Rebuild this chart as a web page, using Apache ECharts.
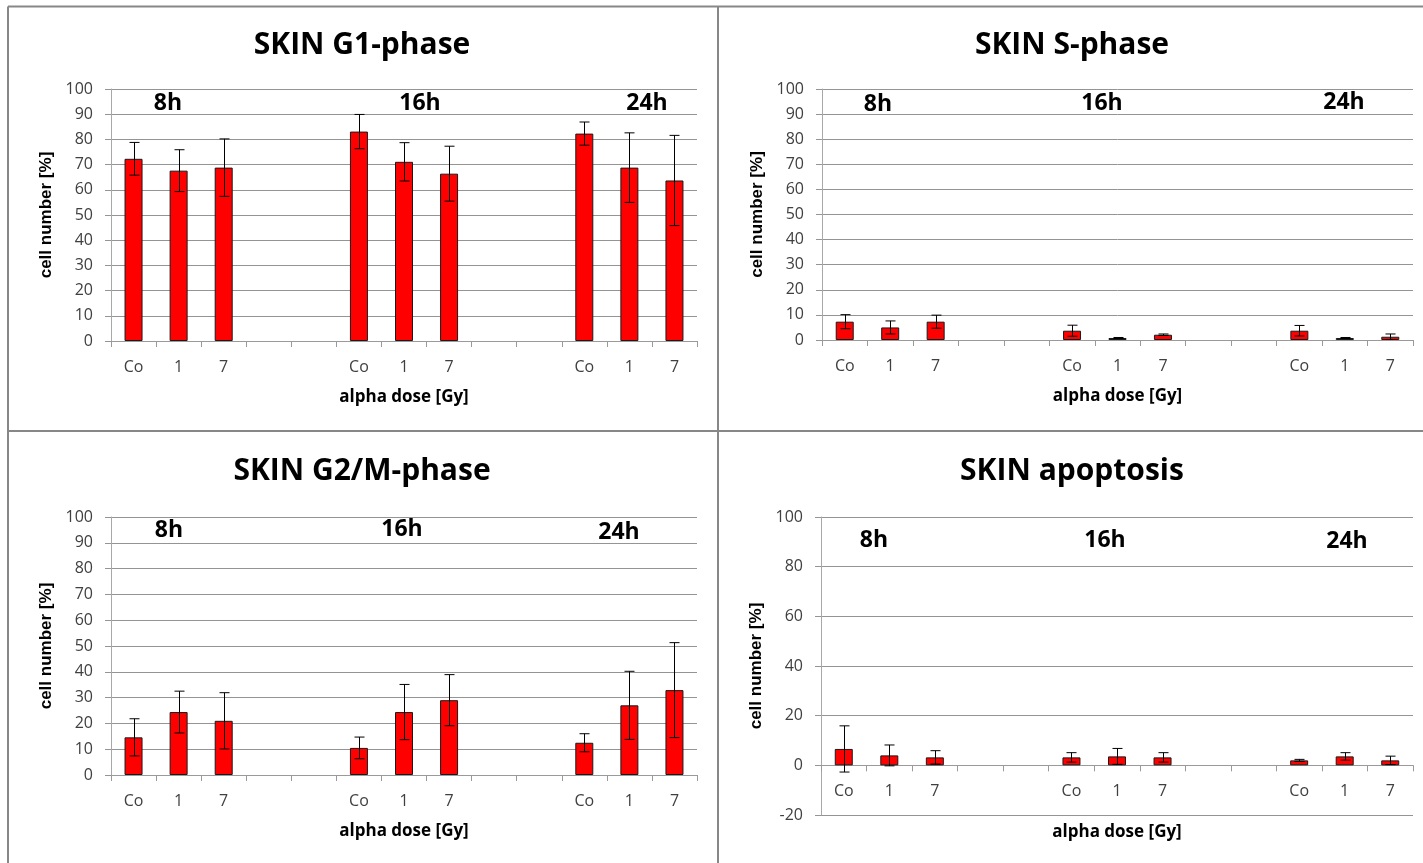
<!DOCTYPE html>
<html><head><meta charset="utf-8">
<script src="https://cdn.jsdelivr.net/npm/echarts@6/dist/echarts.min.js"></script>
<style>html,body{margin:0;padding:0;background:#fff}#c{width:1423px;height:863px}</style>
</head><body><div id="c"></div>
<script>
// ---- data ----
const categories = ['Co','1','7','','','Co','1','7','','','Co','1','7'];
const timeLabels = ['8h','16h','24h'];
const titles = ['SKIN G1-phase','SKIN S-phase','SKIN G2/M-phase','SKIN apoptosis'];
const xAxisName = 'alpha dose [Gy]';
const yAxisName = 'cell number [%]';

const g1Mean = [72.3,67.6,68.8,null,null,83.1,71.1,66.4,null,null,82.3,68.8,63.7];
const g1Err  = [6.5,8.3,11.4,null,null,6.8,7.6,10.9,null,null,4.6,13.8,17.9];
const sMean  = [7.3,5.0,7.3,null,null,3.7,0.8,2.1,null,null,3.7,0.8,1.3];
const sErr   = [2.8,2.6,2.6,null,null,2.2,0.2,0.3,null,null,2.1,0.2,1.1];
const g2Mean = [14.6,24.4,21.0,null,null,10.5,24.4,29.0,null,null,12.5,27.0,32.9];
const g2Err  = [7.2,8.1,10.9,null,null,4.2,10.7,9.9,null,null,3.5,13.2,18.4];
const apMean = [6.6,4.0,3.2,null,null,3.2,3.6,3.2,null,null,2.0,3.6,2.0];
const apErr  = [9.3,4.2,2.7,null,null,1.9,3.2,1.9,null,null,0.4,1.5,1.7];

const yMin = [0,0,0,-20];
const yMax = [100,100,100,100];
const yStep = [10,10,10,20];

// ---- layout ----
const panels = [
  {grid:{left:111,top:89,width:586,height:252}, title:[362,45], hours:[[168,103],[420,103],[647,103]], mean:g1Mean, err:g1Err},
  {grid:{left:822,top:89,width:591,height:251}, title:[1072,45], hours:[[878,104],[1102,103],[1344,102]], mean:sMean, err:sErr},
  {grid:{left:111,top:517,width:586,height:258}, title:[362,471], hours:[[169,530],[402,529],[619,532]], mean:g2Mean, err:g2Err},
  {grid:{left:821,top:517,width:592,height:298}, title:[1072,471], hours:[[874,540],[1105,540],[1347,541]], mean:apMean, err:apErr}
];

const FONT = '"Open Sans", sans-serif';
const labelColor = '#404040';
const gridColor = '#949494';

function renderErr(params, api){
  const x = api.value(0), lo = api.value(1), hi = api.value(2);
  const pLo = api.coord([x, lo]), pHi = api.coord([x, hi]);
  const cx = Math.round(pLo[0]) + 0.5, hw = 5;
  const st = {stroke:'#000', lineWidth:1};
  return {type:'group', children:[
    {type:'line', shape:{x1:cx,y1:pLo[1],x2:cx,y2:pHi[1]}, style:st},
    {type:'line', shape:{x1:cx-hw,y1:pHi[1],x2:cx+hw,y2:pHi[1]}, style:st},
    {type:'line', shape:{x1:cx-hw,y1:pLo[1],x2:cx+hw,y2:pLo[1]}, style:st}
  ]};
}

const grids = [], xAxes = [], yAxes = [], series = [], graphics = [];
panels.forEach((p, i) => {
  grids.push(Object.assign({containLabel:false, outerBoundsMode:'none'}, p.grid));
  // place category axis at value 0 of the value axis
  const zeroOffset = -p.grid.height * (0 - yMin[i]) / (yMax[i] - yMin[i]);
  xAxes.push({
    type:'category', gridIndex:i, data:categories, offset:zeroOffset,
    axisLine:{show:true, onZero:false, lineStyle:{color:'#9a9a9a', width:1}},
    axisTick:{show:true, interval:0, length:6, lineStyle:{color:'#9a9a9a'}},
    axisLabel:{interval:0, color:labelColor, fontFamily:FONT, fontSize:16, margin:18},
    splitLine:{show:false},
    name:xAxisName, nameLocation:'middle', nameGap: (i===3?58:48),
    nameTextStyle:{color:'#000', fontFamily:FONT, fontWeight:'bold', fontSize:17}
  });
  yAxes.push({
    type:'value', gridIndex:i, min:yMin[i], max:yMax[i], interval:yStep[i],
    axisLine:{show:true, lineStyle:{color:'#a8a8a8', width:1}},
    axisTick:{show:true, length:6, lineStyle:{color:gridColor}},
    axisLabel:{color:labelColor, fontFamily:FONT, fontSize:16, margin:18},
    splitLine:{show:true, lineStyle:{color:gridColor, width:1}},
    name:yAxisName, nameLocation:'middle', nameGap:56, nameRotate:90,
    nameTextStyle:{color:'#000', fontFamily:'"Liberation Sans", Arial, sans-serif', fontWeight:'bold', fontSize:17}
  });
  series.push({
    type:'bar', xAxisIndex:i, yAxisIndex:i, data:p.mean, barWidth:18,
    itemStyle:{color:'#ff0000', borderColor:'#1a1a1a', borderWidth:1},
    silent:true, z:2
  });
  const errData = [];
  p.mean.forEach((m, k) => { if (m !== null) errData.push([k, m - p.err[k], m + p.err[k]]); });
  series.push({
    type:'custom', xAxisIndex:i, yAxisIndex:i, data:errData,
    encode:{x:0, y:[1,2]}, renderItem:renderErr, silent:true, z:3
  });
  graphics.push({type:'text', x:p.title[0], y:p.title[1], z:10,
    style:{text:titles[i], font:'bold 30px ' + FONT, fill:'#000', align:'center', verticalAlign:'middle'}});
  p.hours.forEach((h, k) => {
    graphics.push({type:'text', x:h[0], y:h[1], z:10,
      style:{text:timeLabels[k], font:'bold 23px ' + FONT, fill:'#000', align:'center', verticalAlign:'middle'}});
  });
});

// panel frames
const frameStyle = {stroke:'#878787', lineWidth:2};
[[8,6.5,8,863],[718,6.5,718,863],[8,6.5,1423,6.5],[8,431,1423,431]].forEach(l => {
  graphics.push({type:'line', z:20, shape:{x1:l[0],y1:l[1],x2:l[2],y2:l[3]}, style:frameStyle});
});

const chart = echarts.init(document.getElementById('c'), null, {renderer:'canvas'});
chart.setOption({
  animation:false,
  backgroundColor:'#ffffff',
  grid:grids, xAxis:xAxes, yAxis:yAxes, series:series, graphic:graphics
});
</script></body></html>
